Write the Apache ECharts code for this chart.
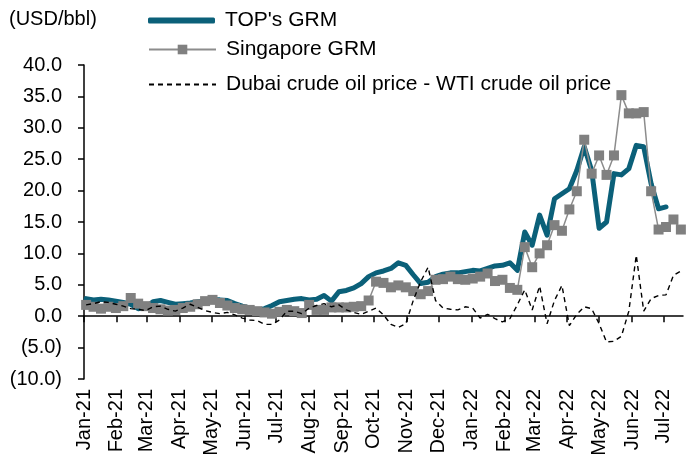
<!DOCTYPE html>
<html>
<head>
<meta charset="utf-8">
<script src="https://cdn.jsdelivr.net/npm/echarts@6/dist/echarts.min.js"></script>
<style>
html,body{margin:0;padding:0;background:#fff;}
#chart{width:699px;height:461px;}
</style>
</head>
<body>
<div id="chart"></div>
<script>
// ---- data ----
var monthStarts = ['2021-01-01','2021-02-01','2021-03-01','2021-04-01','2021-05-01','2021-06-01','2021-07-01','2021-08-01','2021-09-01','2021-10-01','2021-11-01','2021-12-01','2022-01-01','2022-02-01','2022-03-01','2022-04-01','2022-05-01','2022-06-01','2022-07-01'];
var monthLabels = ['Jan-21','Feb-21','Mar-21','Apr-21','May-21','Jun-21','Jul-21','Aug-21','Sep-21','Oct-21','Nov-21','Dec-21','Jan-22','Feb-22','Mar-22','Apr-22','May-22','Jun-22','Jul-22'];

var weeks = [
'2021-01-03','2021-01-10','2021-01-17','2021-01-24','2021-01-31',
'2021-02-07','2021-02-14','2021-02-21','2021-02-28',
'2021-03-07','2021-03-14','2021-03-21','2021-03-28',
'2021-04-04','2021-04-11','2021-04-18','2021-04-25',
'2021-05-02','2021-05-09','2021-05-16','2021-05-23','2021-05-30',
'2021-06-06','2021-06-13','2021-06-20','2021-06-27',
'2021-07-04','2021-07-11','2021-07-18','2021-07-25',
'2021-08-01','2021-08-08','2021-08-15','2021-08-22','2021-08-29',
'2021-09-05','2021-09-12','2021-09-19','2021-09-26',
'2021-10-03','2021-10-10','2021-10-17','2021-10-24','2021-10-31',
'2021-11-07','2021-11-14','2021-11-21','2021-11-28',
'2021-12-05','2021-12-12','2021-12-19','2021-12-26',
'2022-01-02','2022-01-09','2022-01-16','2022-01-23','2022-01-30',
'2022-02-06','2022-02-13','2022-02-20','2022-02-27',
'2022-03-06','2022-03-13','2022-03-20','2022-03-27',
'2022-04-03','2022-04-10','2022-04-17','2022-04-24',
'2022-05-01','2022-05-08','2022-05-15','2022-05-22','2022-05-29',
'2022-06-05','2022-06-12','2022-06-19','2022-06-26',
'2022-07-03','2022-07-10','2022-07-17'
];

var topGrm = [
2.8,2.6,2.7,2.6,2.4,2.2,1.9,1.2,1.4,2.3,
2.5,2.2,1.9,2.0,2.1,2.3,2.4,2.6,2.6,2.5,
2.0,1.6,1.3,0.9,1.2,1.7,2.3,2.5,2.7,2.8,
2.6,2.7,3.3,2.4,3.9,4.1,4.5,5.2,6.3,6.9,
7.2,7.6,8.5,8.1,6.6,5.2,5.4,6.3,6.7,6.9,
6.9,7.1,7.3,7.2,7.6,8.0,8.1,8.5,7.3,13.4,
11.3,16.1,12.9,18.7,19.5,20.3,23.2,27.0,23.2,14.0,
15.0,22.7,22.5,23.5,27.2,27.0,21.1,17.1,17.4
];

var sgGrm = [
1.8,1.5,1.2,1.5,1.3,1.6,2.9,2.0,1.6,1.3,
1.1,0.9,1.0,1.3,1.5,1.9,2.4,2.6,2.1,1.7,
1.3,1.1,1.0,0.8,0.6,0.4,0.7,1.0,0.8,0.5,
1.8,1.0,1.0,1.4,1.4,1.4,1.5,1.6,2.5,5.5,
5.3,4.6,4.9,4.6,4.0,3.5,4.0,5.8,5.9,6.3,
5.9,5.8,6.0,6.3,6.8,5.6,5.8,4.5,4.2,11.0,
7.8,10.0,11.3,14.5,13.6,17.0,19.9,28.1,22.7,25.6,
22.5,25.6,35.2,32.3,32.3,32.5,19.9,13.8,14.2,15.4,
13.8
];

var dubaiWti = [
1.8,2.0,2.3,2.2,1.9,1.6,1.2,1.1,0.9,1.5,
1.6,1.1,0.8,1.3,1.9,1.4,0.9,0.6,0.4,0.6,
0.2,-0.3,-0.6,-0.7,-1.3,-1.3,-0.6,0.8,0.8,0.4,
1.3,1.7,2.0,1.5,1.8,1.0,0.6,0.3,0.8,1.3,
0.2,-1.3,-1.8,-1.2,2.5,5.5,7.8,2.5,1.3,1.1,
1.0,1.5,1.3,-0.3,0.3,-0.4,-0.9,-0.4,1.8,4.2,
1.0,4.8,-1.2,2.5,4.9,-1.5,0.3,1.5,1.2,-1.2,
-4.1,-4.0,-3.2,0.8,9.7,0.8,2.8,3.3,3.4,6.5,
7.2
];

// ---- build ----
function t(s){ return Date.parse(s + 'T00:00:00Z'); }
function pairs(vals){ return vals.map(function(v,i){ return [t(weeks[i]), v]; }); }
var tickVals = monthStarts.map(t);
var labelMap = {};
tickVals.forEach(function(v,i){ labelMap[v] = monthLabels[i]; });

var FONT = 'Liberation Sans, Arial, sans-serif';
var FS = 20;
var LFS = 21;
var xMin = t('2021-01-01'), xMax = t('2022-07-19');
var TEAL = '#0b6079';

function legendBox(top, h, name, extra){
  var item = {name: name};
  for (var k in extra) item[k] = extra[k];
  return {left: 143, top: top, itemWidth: 67, itemHeight: h, data:[item],
    textStyle:{fontSize:LFS, fontFamily:FONT, color:'#000', padding:[0,0,0,5]}};
}

var chart = echarts.init(document.getElementById('chart'), null, {renderer:'canvas'});
chart.setOption({
  animation: false,
  backgroundColor: '#fff',
  textStyle: {fontFamily: FONT, color: '#000'},
  graphic: [{type:'text', left: 9, top: 9, style:{text:'(USD/bbl)', font: FS + 'px ' + FONT, fill:'#000'}}],
  legend: [
    legendBox(5, 6, 'TOP\'s GRM', {icon:'roundRect', itemStyle:{color:TEAL}}),
    legendBox(34, 12, 'Singapore GRM', {}),
    legendBox(69, 12, 'Dubai crude oil price - WTI crude oil price', {itemStyle:{opacity:0}})
  ],
  grid: {left: 84, right: 16, top: 65, bottom: 82, containLabel: false},
  xAxis: [
    {type:'value', min:xMin, max:xMax,
     axisLine:{show:true, onZero:true, lineStyle:{color:'#000', width:1.5}},
     axisTick:{show:true, inside:false, length:6, customValues: tickVals, lineStyle:{color:'#000', width:1.5}},
     axisLabel:{show:false}, splitLine:{show:false}},
    {type:'value', min:xMin, max:xMax, position:'bottom',
     axisLine:{show:false, onZero:false}, axisTick:{show:false}, splitLine:{show:false},
     axisLabel:{show:true, rotate:90, margin:10, customValues: tickVals, fontSize:FS, fontFamily:FONT, color:'#000',
       formatter:function(v){ return labelMap[v] || ''; }}}
  ],
  yAxis: {type:'value', min:-10, max:40, interval:5,
    axisLine:{show:true, lineStyle:{color:'#000', width:1.5}},
    axisTick:{show:true, inside:false, length:6, lineStyle:{color:'#000', width:1.5}},
    splitLine:{show:false},
    axisLabel:{show:true, margin:22, fontSize:FS, fontFamily:FONT, color:'#000',
      formatter:function(v){ return v < 0 ? '(' + Math.abs(v).toFixed(1) + ')' : v.toFixed(1); }}},
  series: [
    {name:'TOP\'s GRM', type:'line', data: pairs(topGrm), symbol:'none', z:2,
     lineStyle:{color:TEAL, width:5, join:'round', cap:'round'}, itemStyle:{color:TEAL}},
    {name:'Singapore GRM', type:'line', data: pairs(sgGrm), symbol:'rect', symbolSize:10, z:3,
     lineStyle:{color:'#8c8c8c', width:1.5}, itemStyle:{color:'#808080'}},
    {name:'Dubai crude oil price - WTI crude oil price', type:'line', data: pairs(dubaiWti), symbol:'none', z:4,
     lineStyle:{color:'#000', width:1.4, type:[5,4]}, itemStyle:{color:'#000'}}
  ]
});
</script>
</body>
</html>
